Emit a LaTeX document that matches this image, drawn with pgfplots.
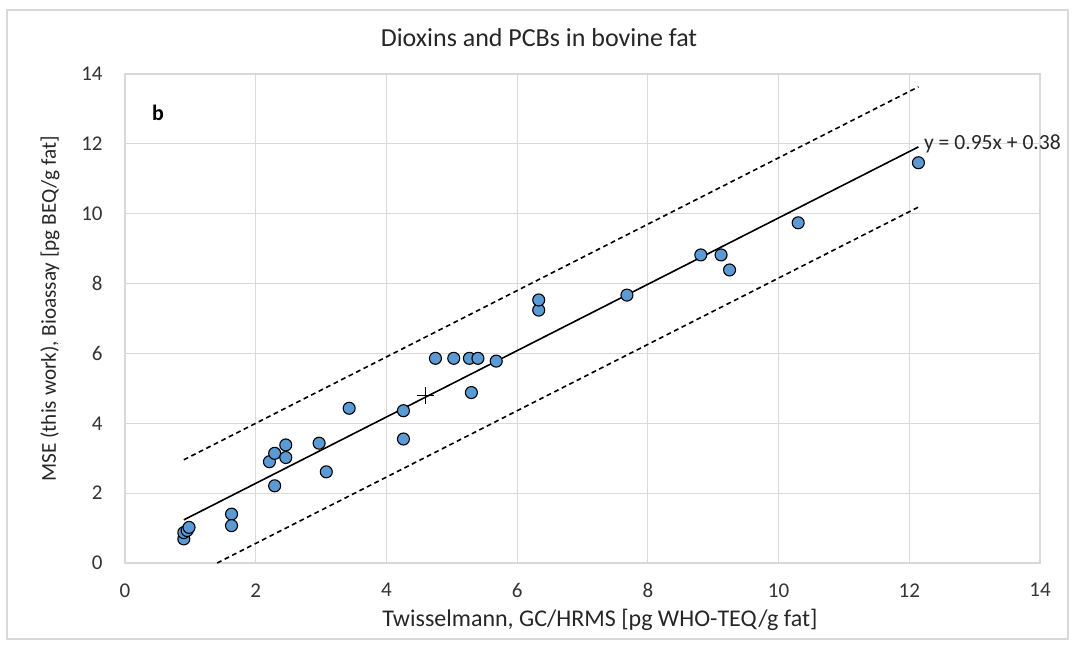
\documentclass[border=0pt]{standalone}
\usepackage{fontspec}
\setmainfont{Carlito}
\usepackage{pgfplots}
\pgfplotsset{compat=1.18}
\definecolor{ptblue}{HTML}{5B9BD5}
\definecolor{gridgray}{HTML}{D9D9D9}

\pgfplotstableread{
x     y
0.90  0.69
0.90  0.87
0.95  0.93
0.98  1.02
1.63  1.40
1.63  1.07
2.21  2.90
2.29  3.14
2.46  3.38
2.46  3.02
2.29  2.21
2.97  3.43
3.08  2.61
3.43  4.43
4.26  4.36
4.26  3.55
4.75  5.86
5.03  5.86
5.27  5.86
5.40  5.86
5.68  5.78
5.30  4.88
6.33  7.24
6.33  7.53
7.68  7.67
8.81  8.82
9.12  8.82
9.25  8.39
10.30 9.74
12.14 11.46
}\samples

\begin{document}
\begin{tikzpicture}[x=1pt,y=1pt]
\path[use as bounding box] (-62.5,-40.5) rectangle (476,281.5);
\draw[gridgray, line width=0.7pt] (-59,-38) rectangle (471.5,276.5);
\begin{axis}[
  at={(0,0)}, anchor=south west,
  width=457.5pt, height=244.5pt, scale only axis,
  xmin=0, xmax=14, ymin=0, ymax=14,
  xtick={0,2,...,14}, ytick={0,2,...,14},
  grid=major,
  major grid style={gridgray, line width=0.6pt},
  axis line style={gridgray, line width=0.6pt},
  major tick length=0pt,
  clip=false,
  tick label style={font=\fontsize{10.5}{12}\selectfont, text=black!80},
  /pgf/number format/assume math mode=true,
  xticklabel style={anchor=north, inner sep=0pt, yshift=-10pt},
  yticklabel style={anchor=east, inner sep=0pt, xshift=-11pt},
  every axis title shift=0pt,
  title={Dioxins and PCBs in bovine fat},
  title style={at={(0.4525,1.074)}, anchor=center, font=\fontsize{13}{15}\selectfont, text=black!85},
  xlabel={Twisselmann, GC/HRMS [pg WHO-TEQ/g fat]},
  xlabel style={at={(0.519,-0.116)}, anchor=center, font=\fontsize{12}{14}\selectfont, text=black!85},
  ylabel={MSE (this work), Bioassay [pg BEQ/g fat]},
  ylabel style={at={(-0.082,0.52)}, anchor=center, font=\fontsize{10.6}{13}\selectfont, text=black!85},
]
% regression line and the two bounds
\addplot[black, line width=0.8pt] coordinates {(0.90,1.235) (12.14,11.913)};
\addplot[black, line width=0.8pt, dash pattern=on 2.4pt off 1.8pt] coordinates {(0.90,2.955) (12.14,13.633)};
\addplot[black, line width=0.8pt, dash pattern=on 2.4pt off 1.8pt] coordinates {(1.41,0) (12.14,10.19)};
% samples
\addplot[only marks, mark=*, mark size=3.0pt,
  mark options={fill=ptblue, draw=black, line width=0.55pt}] table[x=x, y=y] {\samples};
% mean point
\addplot[only marks, mark=+, mark size=4.2pt, mark options={black, line width=0.5pt}]
  coordinates {(4.60,4.79)};
\node[anchor=west, inner sep=0pt, font=\fontsize{10.8}{12}\selectfont, text=black!85]
  at (axis cs:12.22,12.0) {y = 0.95x + 0.38};
\node[font=\fontsize{11}{13}\selectfont\bfseries] at (axis cs:0.505,12.88) {b};
\end{axis}
\end{tikzpicture}
\end{document}
